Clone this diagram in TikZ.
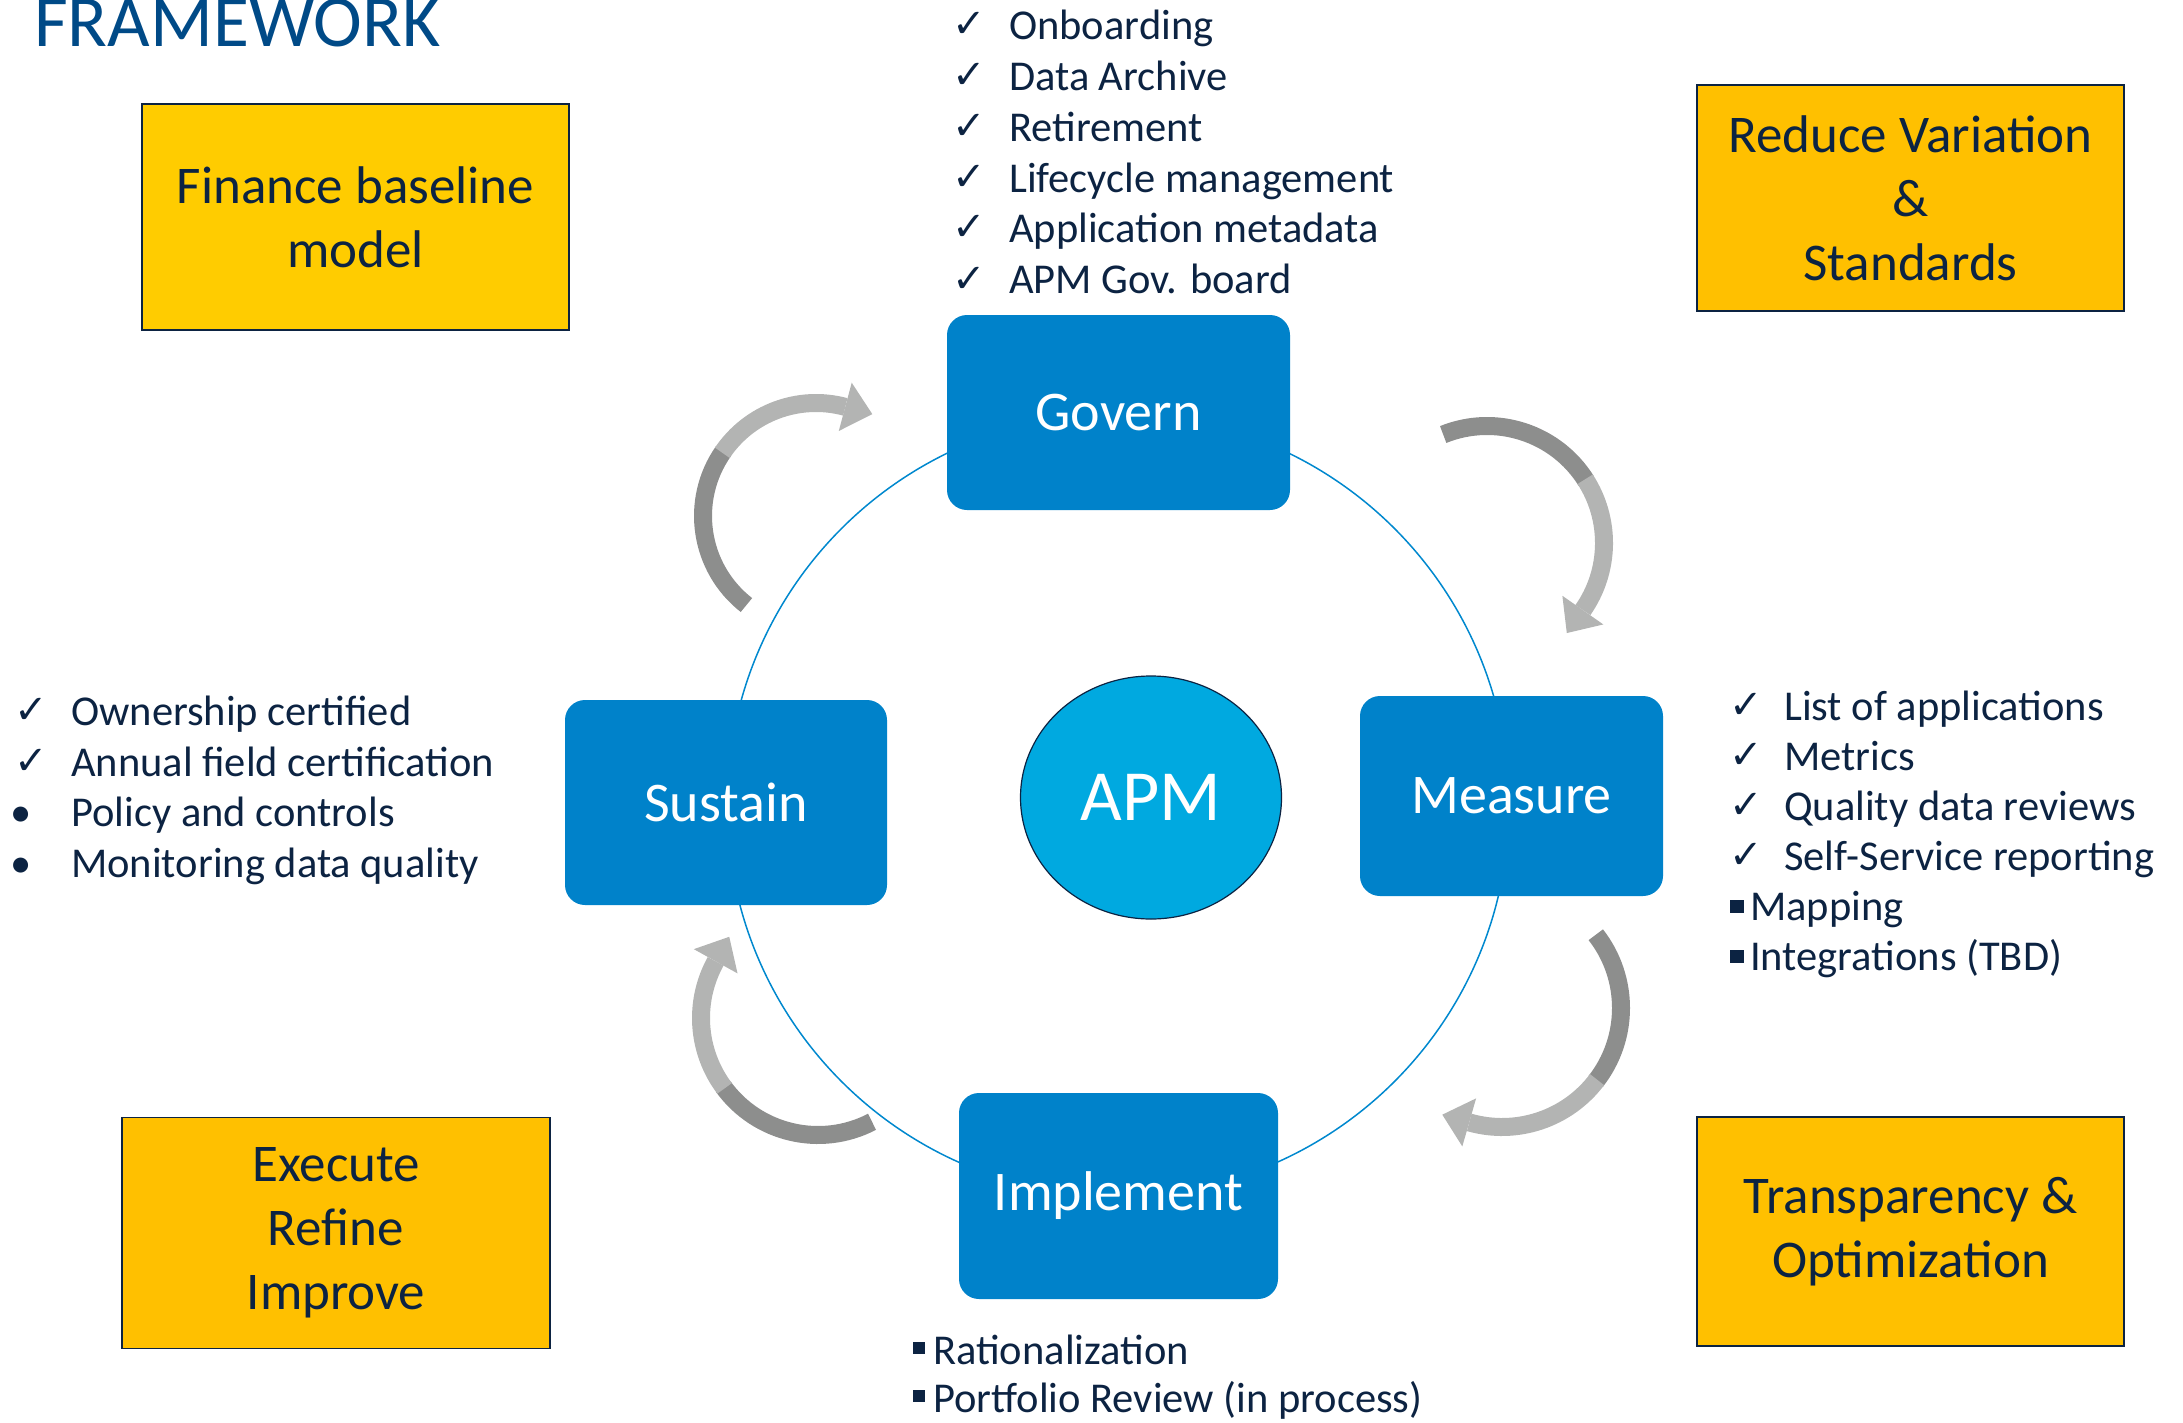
\documentclass[tikz,border=0pt]{standalone}
\usepackage{fontspec}
\setmainfont{Carlito}
\newfontfamily\dejavu{DejaVu Sans}
\usetikzlibrary{calc,shapes.geometric}
\definecolor{navy}{RGB}{12,35,66}
\definecolor{titleblue}{RGB}{0,74,135}
\definecolor{boxblue}{RGB}{0,130,202}
\definecolor{apmblue}{RGB}{0,169,224}
\definecolor{ringblue}{RGB}{0,136,206}
\definecolor{gold}{RGB}{255,204,0}
\definecolor{amber}{RGB}{255,192,0}
\definecolor{arrdark}{RGB}{141,142,141}
\definecolor{arrlight}{RGB}{179,180,179}
% center x, center y, radius, start angle, colour-split angle, end angle
\newcommand\cycarrow[6]{%
  \coordinate (cc) at (#1,#2);
  \draw[arrdark, line width=18pt] ($(cc)+({#4}:{#3})$) arc[start angle=#4, end angle=#5-1, radius=#3];
  \draw[arrlight, line width=18pt] ($(cc)+({#5}:{#3})$) arc[start angle=#5, end angle=#6, radius=#3];
  \fill[arrlight] ($(cc)+({#6}:{#3+25})$) -- ($(cc)+({#6}:{#3})+({#6-90}:28)$) -- ($(cc)+({#6}:{#3-25})$) -- cycle;
}
\begin{document}
\begin{tikzpicture}[x=1pt,y=1pt,
  stagebox/.style={fill=boxblue, rounded corners=20pt, text=white, font=\fontsize{56}{67}\selectfont, inner sep=0pt},
  goalbox/.style={draw=navy, line width=1.5pt, inner sep=0pt, text=navy, align=center, font=\fontsize{53}{64}\selectfont},
  item/.style={anchor=base west, inner sep=0pt, text=navy, font=\fontsize{42.5}{50}\selectfont},
  tick/.style={anchor=base west, inner sep=0pt, text=navy, font=\dejavu\bfseries\fontsize{40}{44}\selectfont},
  dotitem/.style={anchor=base, inner sep=0pt, text=navy, font=\fontsize{42.5}{50}\selectfont},
]
\useasboundingbox (0,0) rectangle (2183,-1423);

% title
\node[anchor=base west, inner sep=0pt, text=titleblue, font=\fontsize{73.5}{80}\selectfont] (title) at (34,-47) {FRAMEWORK};

% ring
\coordinate (ringc) at (1118,-805);
\draw[ringblue, line width=1.5pt] (ringc) circle[radius=391];

% stages
\node[stagebox, minimum width=343pt, minimum height=195pt] (govern) at (1118.5,-412.5) {Govern};
\node[stagebox, minimum width=322pt, minimum height=205pt] (sustain) at (726,-802.5) {Sustain};
\node[stagebox, minimum width=303pt, minimum height=200pt] (measure) at (1511.5,-796) {Measure};
\node[stagebox, minimum width=319pt, minimum height=206pt] (implement) at (1118.5,-1196) {Implement};

% centre
\node[ellipse, draw=navy, line width=1.2pt, fill=apmblue, minimum width=261pt, minimum height=243pt, inner sep=0pt, text=white, font=\fontsize{72}{80}\selectfont] (apm) at (1151,-797.5) {APM};

% goal boxes
\node[goalbox, fill=gold, minimum width=427pt, minimum height=226pt] (finance) at (355.5,-217) {Finance baseline\\model};
\node[goalbox, fill=amber, minimum width=427pt, minimum height=226pt] (reduce) at (1910.5,-198) {Reduce Variation\\\&\\Standards};
\node[goalbox, fill=amber, minimum width=428pt, minimum height=231pt] (execute) at (336,-1233) {Execute\\Refine\\Improve};
\node[goalbox, fill=amber, minimum width=427pt, minimum height=229pt] (transp) at (1910.5,-1231.5) {Transparency \&\\Optimization};

% curved arrows
\cycarrow{816}{-516}{113}{232}{146}{75}
\cycarrow{1487}{-543}{117}{112}{33}{-35}
\cycarrow{1502}{-1008}{119}{38}{-37}{-106}
\cycarrow{818}{-1018}{117}{-62.5}{-143}{-209}

% Govern list
\node[tick] (gt1) at (952,-38) {✓};
\node[tick] (gt2) at (952,-89) {✓};
\node[tick] (gt3) at (952,-139.5) {✓};
\node[tick] (gt4) at (952,-190.5) {✓};
\node[tick] (gt5) at (952,-241) {✓};
\node[tick] (gt6) at (952,-292) {✓};
\node[item] (g1) at (1009,-40) {Onboarding};
\node[item] (g2) at (1009,-91) {Data Archive};
\node[item] (g3) at (1009,-141.5) {Retirement};
\node[item] (g4) at (1009,-192.5) {Lifecycle management};
\node[item] (g5) at (1009,-243) {Application metadata};
\node[item] (g6) at (1009,-294) {APM Gov. board};

% Sustain list
\node[tick] (st1) at (14,-723) {✓};
\node[tick] (st2) at (14,-774) {✓};
\node[dotitem] (sb3) at (21,-826.5) {•};
\node[dotitem] (sb4) at (21,-877) {•};
\node[item] (s1) at (71,-725) {Ownership certified};
\node[item] (s2) at (71,-776) {Annual field certification};
\node[item] (s3) at (71,-826.5) {Policy and controls};
\node[item] (s4) at (71,-877) {Monitoring data quality};

% Measure list
\node[tick] (mt1) at (1729,-718) {✓};
\node[tick] (mt2) at (1729,-768) {✓};
\node[tick] (mt3) at (1729,-818) {✓};
\node[tick] (mt4) at (1729,-868) {✓};
\node[item] (m1) at (1784,-720) {List of applications};
\node[item] (m2) at (1784,-770) {Metrics};
\node[item] (m3) at (1784,-820) {Quality data reviews};
\node[item] (m4) at (1784,-870) {Self-Service reporting};
\node[item] (m5) at (1730,-920) {\raisebox{7pt}{\rule{14pt}{13pt}}\hspace{6pt}Mapping};
\node[item] (m6) at (1730,-970) {\raisebox{7pt}{\rule{14pt}{13pt}}\hspace{6pt}Integrations (TBD)};

% Implement list
\node[item] (i1) at (913,-1364) {\raisebox{10pt}{\rule{12pt}{12pt}}\hspace{8pt}Rationalization};
\node[item] (i2) at (913,-1412) {\raisebox{10pt}{\rule{12pt}{12pt}}\hspace{8pt}Portfolio Review (in process)};
\end{tikzpicture}
\end{document}
